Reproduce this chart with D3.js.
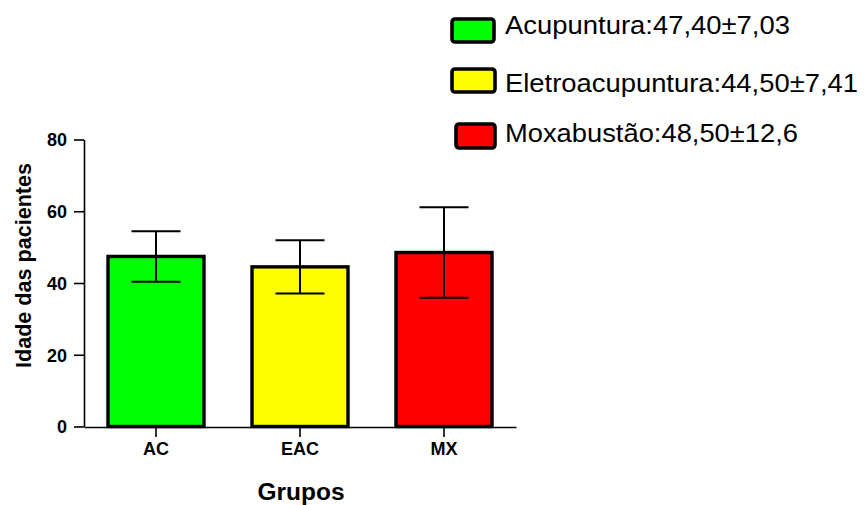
<!DOCTYPE html>
<html>
<head>
<meta charset="utf-8">
<script src="https://cdn.jsdelivr.net/npm/d3@7"></script>
<style>
  html, body { margin: 0; padding: 0; background: #fff; }
  svg { display: block; }
</style>
</head>
<body>
<svg id="chart" width="864" height="505"></svg>
<script>
// Group data: mean age and standard deviation
const groups = ["AC", "EAC", "MX"];
const means = [47.40, 44.50, 48.50];
const sds = [7.03, 7.41, 12.6];
const colors = ["#00ff00", "#ffff00", "#ff0000"];
const legendLabels = [
  "Acupuntura:47,40±7,03",
  "Eletroacupuntura:44,50±7,41",
  "Moxabustão:48,50±12,6"
];
const yTicks = [0, 20, 40, 60, 80];

const svg = d3.select("#chart");
const font = "'Liberation Sans', Arial, sans-serif";

const x = d3.scaleBand()
  .domain(groups)
  .range([84, 516])
  .paddingInner(1 / 3)
  .paddingOuter(1 / 6);

const y = d3.scaleLinear().domain([0, 80]).range([426.5, 139.5]);

// Bars
svg.append("g").selectAll("rect")
  .data(groups)
  .join("rect")
  .attr("x", d => x(d))
  .attr("y", (d, i) => y(means[i]))
  .attr("width", x.bandwidth())
  .attr("height", (d, i) => y(0) - y(means[i]))
  .attr("fill", (d, i) => colors[i])
  .attr("stroke", "#000")
  .attr("stroke-width", 3.4);

// Error bars (mean ± SD)
const eb = svg.append("g").attr("stroke", "#000").attr("stroke-width", 2);
const capHalf = x.bandwidth() / 4 + 0.5;
groups.forEach((g, i) => {
  const cx = x(g) + x.bandwidth() / 2;
  const top = y(means[i] + sds[i]);
  const bot = y(means[i] - sds[i]);
  eb.append("line").attr("x1", cx).attr("x2", cx).attr("y1", top).attr("y2", bot);
  eb.append("line").attr("x1", cx - capHalf).attr("x2", cx + capHalf).attr("y1", top).attr("y2", top);
  eb.append("line").attr("x1", cx - capHalf).attr("x2", cx + capHalf).attr("y1", bot).attr("y2", bot);
});

// Y axis
const yAxis = svg.append("g")
  .attr("transform", "translate(84,0)")
  .call(d3.axisLeft(y).tickValues(yTicks).tickSize(10).tickPadding(7).tickSizeOuter(0));
yAxis.attr("font-size", null).attr("font-family", null);
yAxis.select(".domain").attr("stroke-width", 1.6);
yAxis.selectAll(".tick line").attr("stroke-width", 1.6);
yAxis.selectAll(".tick text")
  .style("font-family", font)
  .style("font-weight", "bold")
  .style("font-size", "18px")
  .attr("dy", "0.36em")
  .attr("fill", "#000");

// X axis
const xAxis = svg.append("g")
  .attr("transform", "translate(0,427)")
  .call(d3.axisBottom(x).tickSize(10).tickPadding(5).tickSizeOuter(0));
xAxis.attr("font-size", null).attr("font-family", null);
xAxis.select(".domain").attr("stroke-width", 1.6);
xAxis.selectAll(".tick line").attr("stroke-width", 1.6);
xAxis.selectAll(".tick text")
  .style("font-family", font)
  .style("font-weight", "bold")
  .style("font-size", "18px")
  .attr("fill", "#000");

// Axis titles
svg.append("text")
  .attr("transform", "translate(31,265.5) rotate(-90)")
  .attr("text-anchor", "middle")
  .style("font-family", font)
  .style("font-weight", "bold")
  .style("font-size", "22px")
  .attr("textLength", 205)
  .attr("lengthAdjust", "spacingAndGlyphs")
  .text("Idade das pacientes");

svg.append("text")
  .attr("x", 301)
  .attr("y", 500)
  .attr("text-anchor", "middle")
  .style("font-family", font)
  .style("font-weight", "bold")
  .style("font-size", "23px")
  .attr("textLength", 87)
  .attr("lengthAdjust", "spacingAndGlyphs")
  .text("Grupos");

// Legend
const legendRows = [
  { sx: 452, sy: 19, sw: 42, sh: 23, ty: 33.5, tw: 285 },
  { sx: 452, sy: 69, sw: 43, sh: 23, ty: 91.7, tw: 353 },
  { sx: 456, sy: 124, sw: 39, sh: 24, ty: 142, tw: 293 }
];
const legend = svg.append("g");
legendLabels.forEach((lab, i) => {
  const r = legendRows[i];
  legend.append("rect")
    .attr("x", r.sx).attr("y", r.sy)
    .attr("width", r.sw).attr("height", r.sh)
    .attr("rx", 3).attr("ry", 3)
    .attr("fill", colors[i])
    .attr("stroke", "#000")
    .attr("stroke-width", 3.6);
  legend.append("text")
    .attr("x", 505).attr("y", r.ty)
    .style("font-family", font)
    .style("font-size", "25.5px")
    .attr("textLength", r.tw)
    .attr("lengthAdjust", "spacingAndGlyphs")
    .attr("fill", "#000")
    .text(lab);
});
</script>
</body>
</html>
